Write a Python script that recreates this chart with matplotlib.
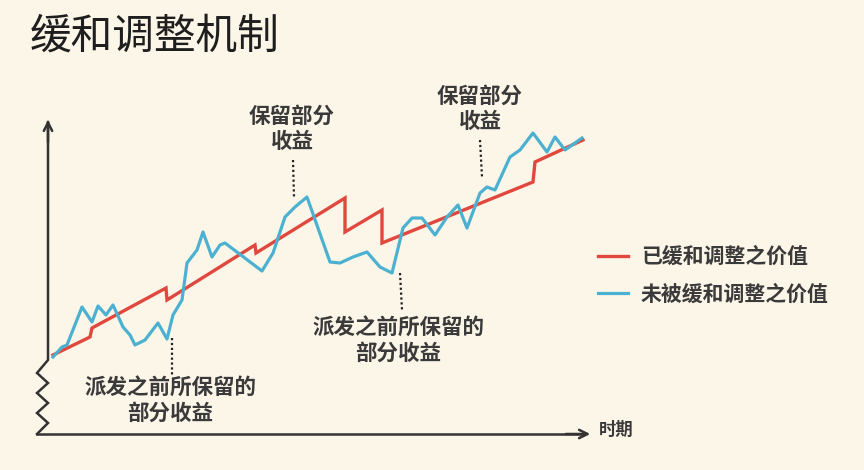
import matplotlib
matplotlib.use('Agg')
import matplotlib.pyplot as plt

plt.rcParams['font.family'] = ['Noto Sans CJK SC', 'DejaVu Sans']

# 未被缓和调整之价值 (time, value)
blue_t = [5, 14, 19, 34, 44, 50, 58, 65, 75, 82, 87, 97, 110, 119, 125, 134, 139, 149,
          155, 164, 172, 177, 214, 225, 237, 247, 259, 282, 292, 305, 319, 332, 344, 355,
          364, 374, 387, 399, 410, 419, 432, 439, 447, 462, 472, 485, 499, 507, 517, 534]
blue_v = [78, 88, 90, 128, 113, 129, 120, 130, 108, 100, 90, 95, 112, 96, 120, 135, 172, 185,
          203, 178, 190, 192, 164, 182, 218, 228, 238, 173, 172, 178, 183, 168, 162, 207,
          217, 217, 200, 218, 230, 207, 242, 248, 245, 278, 285, 302, 283, 298, 285, 297]

# 已缓和调整之价值
red_t = [5, 42, 44, 118, 119, 207, 208, 297, 297, 334, 334, 485, 487, 535]
red_v = [80, 98, 107, 147, 135, 190, 182, 237, 203, 225, 192, 253, 273, 295]

labels = ['已缓和调整之价值', '未被缓和调整之价值']
title = '缓和调整机制'
xlabel = '时期'

# annotations: text, text position, dotted line start/end
notes = [
    ('保留部分\n收益', (244, 306), (245, 275), (246, 238)),
    ('保留部分\n收益', (432, 326), (432, 295), (434, 258)),
    ('派发之前所保留的\n部分收益', (122, 34), (124, 97), (124, 60)),
    ('派发之前所保留的\n部分收益', (350, 94), (352, 162), (354, 125)),
]

bg = '#fcf6e9'
red = '#e0473d'
blue = '#4cb1d1'
ink = '#3a3a3a'

fig = plt.figure(figsize=(8.64, 4.70), dpi=100, facecolor=bg)
ax = fig.add_axes([0, 0, 1, 1])
ax.set_facecolor(bg)
ax.set_xlim(-48, 816)
ax.set_ylim(-35, 435)
ax.axis('off')

# axes with break
zig_t = [0, 0, -11, 0, -11, 0, -11, 0, -11]
zig_v = [313, 75, 62, 52, 42, 32, 22, 12, 1]
ax.plot(zig_t, zig_v, color='#333333', lw=1.8, solid_joinstyle='miter')
ax.annotate('', xy=(0, 318), xytext=(0, 290),
            arrowprops=dict(arrowstyle='->,head_length=0.6,head_width=0.3', color='#333333', lw=1.8))
ax.plot([-11, 535], [1, 1], color='#333333', lw=1.8)
ax.annotate('', xy=(545, 1), xytext=(515, 1),
            arrowprops=dict(arrowstyle='->,head_length=0.6,head_width=0.3', color='#333333', lw=1.8))
ax.text(551, 5, xlabel, fontsize=12.5, color=ink, va='center', ha='left', fontweight='semibold')

ax.plot(red_t, red_v, color=red, lw=2.4, label=labels[0], solid_joinstyle='miter')
ax.plot(blue_t, blue_v, color=blue, lw=2.3, label=labels[1])

for txt, pos, p0, p1 in notes:
    ax.text(pos[0], pos[1], txt, fontsize=15.5, color=ink, ha='center', va='center',
            linespacing=1.25, fontweight='semibold')
    ax.plot([p0[0], p1[0]], [p0[1], p1[1]], color='#222222', lw=1.6, ls=(0, (1, 1.2)))

fig.text(30 / 864, 1 - 37 / 470, title, fontsize=30, color='#1e1e1e', ha='left', va='center')

leg = ax.legend(loc='upper left', bbox_to_anchor=(598 / 864, 1 - 246 / 470), frameon=False,
                fontsize=15, handlelength=1.45, handletextpad=0.6, labelspacing=0.8,
                borderpad=0, borderaxespad=0, prop={'weight': 'semibold', 'size': 15})
for t in leg.get_texts():
    t.set_color(ink)

fig.savefig('out.png', dpi=100, facecolor=bg)
